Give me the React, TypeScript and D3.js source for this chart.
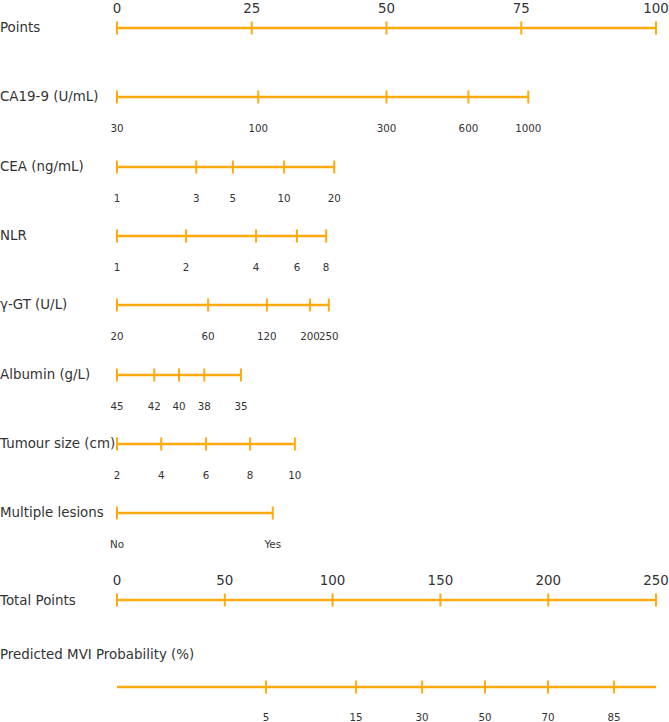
import React from 'react';
import * as d3 from 'd3';

// points scale on top
const pointTicks = [0, 25, 50, 75, 100];
const totalTicks = [0, 50, 100, 150, 200, 250];

// each predictor: tick labels and the points each label is worth
const ca199Labels = ['30', '100', '300', '600', '1000'];
const ca199Points = [0, 26.2, 50, 65.2, 76.3];

const ceaLabels = ['1', '3', '5', '10', '20'];
const ceaPoints = [0, 14.7, 21.5, 31, 40.3];

const nlrLabels = ['1', '2', '4', '6', '8'];
const nlrPoints = [0, 12.8, 25.8, 33.4, 38.8];

const ggtLabels = ['20', '60', '120', '200', '250'];
const ggtPoints = [0, 16.9, 27.8, 35.8, 39.3];

const albuminLabels = ['45', '42', '40', '38', '35'];
const albuminPoints = [0, 6.9, 11.5, 16.2, 23];

const tumourLabels = ['2', '4', '6', '8', '10'];
const tumourPoints = [0, 8.2, 16.5, 24.7, 33];

const lesionLabels = ['No', 'Yes'];
const lesionPoints = [0, 28.9];

// predicted probability against total points
const probLabels = ['5', '15', '30', '50', '70', '85'];
const probTotals = [69.1, 110.9, 141.5, 170.7, 199.9, 230.5];

const rows = [
  { name: 'CA19-9 (U/mL)', labels: ca199Labels, points: ca199Points, y: 97 },
  { name: 'CEA (ng/mL)', labels: ceaLabels, points: ceaPoints, y: 167 },
  { name: 'NLR', labels: nlrLabels, points: nlrPoints, y: 236 },
  { name: 'γ-GT (U/L)', labels: ggtLabels, points: ggtPoints, y: 305 },
  { name: 'Albumin (g/L)', labels: albuminLabels, points: albuminPoints, y: 375 },
  { name: 'Tumour size (cm)', labels: tumourLabels, points: tumourPoints, y: 444 },
  { name: 'Multiple lesions', labels: lesionLabels, points: lesionPoints, y: 513 },
];

const W = 669;
const H = 722;
const ORANGE = '#ffab0f';
const TEXT = '#333';
const FONT = '"DejaVu Sans", sans-serif';
const LABEL_SIZE = 13.4;

const App = () => {
  const x = d3.scaleLinear().domain([0, 100]).range([117, 656]);
  const xt = d3.scaleLinear().domain([0, 250]).range([117, 656]);
  const tick = 6.5;

  const axisRow = (y: number, xs: number[]) => (
    <g>
      <line x1={d3.min(xs)} x2={d3.max(xs)} y1={y} y2={y} stroke={ORANGE} strokeWidth={2.4} />
      {xs.map((v, i) => (
        <line key={i} x1={v} x2={v} y1={y - tick} y2={y + tick} stroke={ORANGE} strokeWidth={2} />
      ))}
    </g>
  );

  return (
    <svg width={W} height={H} style={{ display: 'block', position: 'absolute', left: 0, top: 0 }} fontFamily={FONT}>
      {/* Points */}
      <text x={0} y={32} fontSize={LABEL_SIZE} fill={TEXT}>Points</text>
      {axisRow(28, pointTicks.map(d => x(d)))}
      {pointTicks.map(d => (
        <text key={d} x={x(d)} y={13} fontSize={LABEL_SIZE} fill={TEXT} textAnchor="middle">{d}</text>
      ))}

      {rows.map(r => (
        <g key={r.name}>
          <text x={0} y={r.y + 4} fontSize={LABEL_SIZE} fill={TEXT}>{r.name}</text>
          {axisRow(r.y, r.points.map(p => x(p)))}
          {r.labels.map((l, i) => (
            <text key={l} x={x(r.points[i])} y={r.y + 35} fontSize={10.3} fill={TEXT} textAnchor="middle">{l}</text>
          ))}
        </g>
      ))}

      {/* Total points */}
      <text x={0} y={605} fontSize={LABEL_SIZE} fill={TEXT}>Total Points</text>
      {axisRow(600, totalTicks.map(d => xt(d)))}
      {totalTicks.map(d => (
        <text key={d} x={xt(d)} y={585} fontSize={LABEL_SIZE} fill={TEXT} textAnchor="middle">{d}</text>
      ))}

      {/* Probability */}
      <text x={0} y={659} fontSize={LABEL_SIZE} fill={TEXT}>Predicted MVI Probability (%)</text>
      <line x1={xt(0)} x2={xt(250)} y1={687} y2={687} stroke={ORANGE} strokeWidth={2.4} />
      {probTotals.map((t, i) => (
        <line key={i} x1={xt(t)} x2={xt(t)} y1={687 - tick} y2={687 + tick} stroke={ORANGE} strokeWidth={2} />
      ))}
      {probLabels.map((l, i) => (
        <text key={l} x={xt(probTotals[i])} y={721} fontSize={10.3} fill={TEXT} textAnchor="middle">{l}</text>
      ))}
    </svg>
  );
};

export default App;
